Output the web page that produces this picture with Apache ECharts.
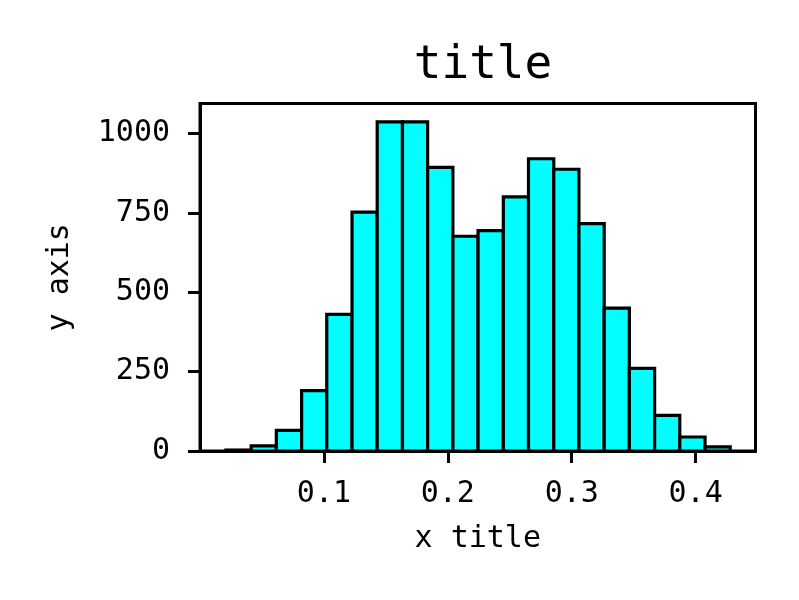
<!DOCTYPE html>
<html>
<head>
<meta charset="utf-8">
<script src="https://cdn.jsdelivr.net/npm/echarts@6/dist/echarts.min.js"></script>
<style>
  html, body { margin: 0; padding: 0; background: #fff; }
  #chart { width: 799px; height: 600px; }
</style>
</head>
<body>
<div id="chart"></div>
<script>
// histogram bin edges (21 edges -> 20 bins) and counts
const binEdges = [0.0209, 0.0413, 0.0616, 0.0820, 0.1023, 0.1227, 0.1430, 0.1634, 0.1837, 0.2041,
  0.2244, 0.2448, 0.2651, 0.2855, 0.3058, 0.3262, 0.3465, 0.3669, 0.3872, 0.4076, 0.4279]
const binCounts = [3, 16, 65, 190, 430, 752, 1036, 1036, 893, 676,
  694, 800, 920, 887, 716, 450, 260, 112, 44, 13]
const xTicks = [0.1, 0.2, 0.3, 0.4]
const yTicks = [0, 250, 500, 750, 1000]

const FONT = 'DejaVu Sans Mono'
const bins = binCounts.map((count, i) => [binEdges[i], binEdges[i + 1], count])

const chart = echarts.init(document.getElementById('chart'), null, { renderer: 'canvas' })

chart.setOption({
  animation: false,
  backgroundColor: '#ffffff',
  title: {
    text: 'title',
    left: 478,
    textAlign: 'center',
    top: 38,
    textStyle: { fontFamily: FONT, fontSize: 46, fontWeight: 'normal', color: '#000' },
  },
  grid: {
    left: 200,
    right: 43.5,
    top: 103.5,
    bottom: 149,
    show: true,
    borderColor: '#000',
    borderWidth: 3,
    backgroundColor: '#fff',
  },
  xAxis: {
    type: 'value',
    min: 0,
    max: 0.4483,
    name: 'x title',
    nameLocation: 'middle',
    nameGap: 73,
    nameTextStyle: { fontFamily: FONT, fontSize: 30, color: '#000' },
    axisLine: { show: true, onZero: false, lineStyle: { color: '#000', width: 3 } },
    axisTick: { show: true, inside: false, length: 12, customValues: xTicks, lineStyle: { color: '#000', width: 3 } },
    axisLabel: {
      customValues: xTicks,
      margin: 28,
      fontFamily: FONT,
      fontSize: 30,
      color: '#000',
      formatter: (v) => v.toFixed(1),
    },
    splitLine: { show: false },
  },
  yAxis: {
    type: 'value',
    min: 0,
    max: 1094,
    name: 'y axis',
    nameLocation: 'middle',
    nameGap: 125,
    nameTextStyle: { fontFamily: FONT, fontSize: 30, color: '#000' },
    axisLine: { show: true, lineStyle: { color: '#000', width: 3 } },
    axisTick: { show: true, inside: false, length: 12, customValues: yTicks, lineStyle: { color: '#000', width: 3 } },
    axisLabel: {
      customValues: yTicks,
      margin: 30,
      fontFamily: FONT,
      fontSize: 30,
      color: '#000',
      formatter: (v) => String(v),
    },
    splitLine: { show: false },
  },
  series: [{
    type: 'custom',
    data: bins,
    encode: { x: [0, 1], y: 2 },
    renderItem: (params, api) => {
      const p0 = api.coord([api.value(0), 0])
      const p1 = api.coord([api.value(1), api.value(2)])
      return {
        type: 'rect',
        shape: { x: p0[0], y: p1[1], width: p1[0] - p0[0], height: p0[1] - p1[1] },
        style: { fill: '#00ffff', stroke: '#000', lineWidth: 3.2 },
      }
    },
  }],
})
</script>
</body>
</html>
